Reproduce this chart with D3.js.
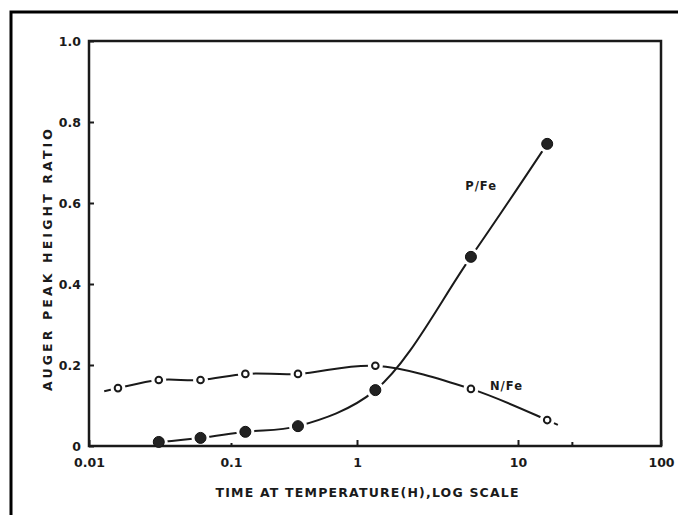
<!DOCTYPE html>
<html>
<head>
<meta charset="utf-8">
<script src="https://cdn.jsdelivr.net/npm/d3@7"></script>
<style>
  html, body { margin: 0; padding: 0; background: #fff; }
  svg { display: block; }
  text { font-family: "DejaVu Sans", sans-serif; font-weight: bold; fill: #1a1a1a; }
</style>
</head>
<body>
<svg id="chart" width="678" height="515"></svg>
<script>
// Annealing time (hours) for each measurement
const hours = [0.016, 0.031, 0.061, 0.13, 0.34, 1.3, 5.1, 16];
// N/Fe Auger peak-height ratio (open circles), one per time above
const nFe = [0.143, 0.163, 0.163, 0.178, 0.178, 0.198, 0.141, 0.064];
// P/Fe ratio (filled circles), measured from the second time onward
const pFeHours = hours.slice(1);
const pFe = [0.01, 0.02, 0.035, 0.049, 0.138, 0.467, 0.746];
// Where the hand-drawn N/Fe curve begins and ends beyond its points
const nFeLead = [0.0128, 0.135];
const nFeTail = [19, 0.052];

// Axis ticks and labels
const xTicks = [0.01, 0.1, 1, 10, 100];
const xTickLabels = ["0.01", "0.1", "1", "10", "100"];
const xMinorTicks = [24];
const yTicks = [0, 0.2, 0.4, 0.6, 0.8, 1.0];
const yTickLabels = ["0", "0.2", "0.4", "0.6", "0.8", "1.0"];

const xTitle = "TIME AT TEMPERATURE(H),LOG SCALE";
const yTitle = "AUGER PEAK HEIGHT RATIO";
const seriesLabels = [
  { text: "P/Fe", t: 4.7, v: 0.64 },
  { text: "N/Fe", t: 6.7, v: 0.148 }
];

const svg = d3.select("#chart");
const ink = "#1a1a1a";
const fontSize = 12.5;

// Outer border of the figure
svg.append("rect")
  .attr("x", 11).attr("y", 12)
  .attr("width", 700).attr("height", 540)
  .attr("fill", "none").attr("stroke", "#000").attr("stroke-width", 3);

// Hand-ruled log axis: each decade is a piece of the scale
const x = d3.scaleLog()
  .domain(xTicks)
  .range([89, 231, 357, 518, 661]);
const y = d3.scaleLinear().domain([0, 1]).range([446, 41]);

const g = svg.append("g");

const line = d3.line()
  .x(d => x(d[0]))
  .y(d => y(d[1]))
  .curve(d3.curveCatmullRom.alpha(0.5));

const nPts = hours.map((t, i) => [t, nFe[i]]);
const pPts = pFeHours.map((t, i) => [t, pFe[i]]);

// Curves
g.append("path")
  .attr("d", line(pPts))
  .attr("fill", "none").attr("stroke", ink).attr("stroke-width", 2);
g.append("path")
  .attr("d", line([nFeLead, ...nPts, nFeTail]))
  .attr("fill", "none").attr("stroke", ink).attr("stroke-width", 2);

// White halos break the curves around each marker
g.selectAll(".halo-n").data(nPts).join("circle")
  .attr("cx", d => x(d[0])).attr("cy", d => y(d[1]))
  .attr("r", 7.5).attr("fill", "#fff");
g.selectAll(".halo-p").data(pPts).join("circle")
  .attr("cx", d => x(d[0])).attr("cy", d => y(d[1]))
  .attr("r", 9).attr("fill", "#fff");

// Plot frame
g.append("rect")
  .attr("x", x(0.01)).attr("y", y(1))
  .attr("width", x(100) - x(0.01)).attr("height", y(0) - y(1))
  .attr("fill", "none").attr("stroke", ink).attr("stroke-width", 2.5);

// Y axis: inward ticks, labels on the left
const yAxis = d3.axisLeft(y)
  .tickValues(yTicks)
  .tickSize(-5)
  .tickPadding(8)
  .tickFormat((d, i) => yTickLabels[i]);
const ya = g.append("g").attr("transform", `translate(${x(0.01)},0)`).call(yAxis);
ya.select(".domain").remove();
ya.selectAll("line").attr("stroke", ink).attr("stroke-width", 2);
ya.selectAll("text").attr("font-size", fontSize).attr("dy", "0.35em")
  .style("font-family", "'DejaVu Sans', sans-serif").style("font-weight", "bold").attr("fill", ink);

// X axis: inward ticks, labels below
const xAxis = d3.axisBottom(x)
  .tickValues(xTicks)
  .tickSize(-6)
  .tickPadding(12)
  .tickFormat((d, i) => xTickLabels[i]);
const xa = g.append("g").attr("transform", `translate(0,${y(0)})`).call(xAxis);
xa.select(".domain").remove();
xa.selectAll("line").attr("stroke", ink).attr("stroke-width", 2)
  .attr("y2", d => d === 0.1 ? -3 : -6);
xa.selectAll("text").attr("font-size", fontSize)
  .style("font-family", "'DejaVu Sans', sans-serif").style("font-weight", "bold").attr("fill", ink);

g.selectAll(".minor-x").data(xMinorTicks).join("line")
  .attr("x1", d => x(d)).attr("x2", d => x(d))
  .attr("y1", y(0)).attr("y2", y(0) - 4)
  .attr("stroke", ink).attr("stroke-width", 2);

// Markers
g.selectAll(".pt-p").data(pPts).join("circle")
  .attr("cx", d => x(d[0])).attr("cy", d => y(d[1]))
  .attr("r", 5.5).attr("fill", "#222").attr("stroke", "#111").attr("stroke-width", 1);
g.selectAll(".pt-n").data(nPts).join("circle")
  .attr("cx", d => x(d[0])).attr("cy", d => y(d[1]))
  .attr("r", 3.3).attr("fill", "#fff").attr("stroke", ink).attr("stroke-width", 2);

// Series labels
g.selectAll(".series-label").data(seriesLabels).join("text")
  .attr("x", d => x(d.t)).attr("y", d => y(d.v))
  .attr("font-size", 11.5).attr("letter-spacing", 1)
  .attr("dominant-baseline", "middle")
  .text(d => d.text);

// Axis titles
svg.append("text")
  .attr("x", 367).attr("y", 497)
  .attr("text-anchor", "middle")
  .attr("font-size", fontSize)
  .attr("textLength", 303).attr("lengthAdjust", "spacing")
  .text(xTitle);

svg.append("text")
  .attr("transform", "translate(52,260) rotate(-90)")
  .attr("text-anchor", "middle")
  .attr("font-size", fontSize)
  .attr("textLength", 262).attr("lengthAdjust", "spacing")
  .text(yTitle);
</script>
</body>
</html>
